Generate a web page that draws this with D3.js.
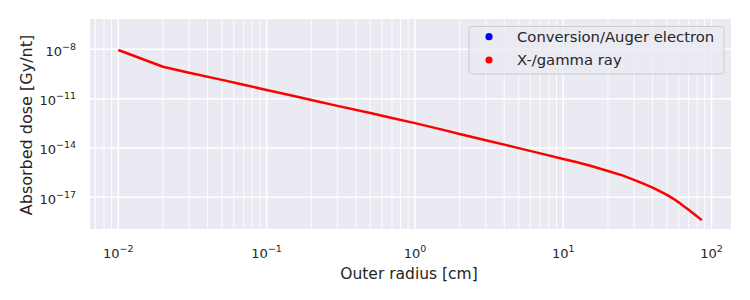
<!DOCTYPE html>
<html>
<head>
<meta charset="utf-8">
<script src="https://cdn.jsdelivr.net/npm/d3@7"></script>
<style>
  html, body { margin: 0; padding: 0; background: #fff; }
  svg { display: block; }
  text { font-family: "DejaVu Sans", sans-serif; fill: #262626; }
</style>
</head>
<body>
<svg id="chart" width="750" height="300"></svg>
<script>
// ---- data ----
const seriesNames = ["Conversion/Auger electron", "X-/gamma ray"];
const seriesColors = ["#0000ff", "#ff0000"];
// Outer radius [cm]
const radius = [0.01, 0.02, 0.03, 0.05, 0.07, 0.1, 0.15, 0.2, 0.3, 0.5, 0.7, 1, 1.5, 2, 3, 5, 7, 10, 12, 15, 20, 25, 30, 35, 40, 45, 50, 55, 60, 65, 70, 75, 80, 86];
// X-/gamma ray absorbed dose [Gy/nt]
const gammaDose = [9.12e-9, 8.71e-10, 3.80e-10, 1.38e-10, 6.92e-11, 3.39e-11, 1.48e-11, 8.32e-12, 3.63e-12, 1.32e-12, 6.61e-13, 3.24e-13, 1.35e-13, 7.08e-14, 2.95e-14, 9.77e-15, 4.68e-15, 2.14e-15, 1.43e-15, 8.51e-16, 3.98e-16, 2.14e-16, 1.15e-16, 6.46e-17, 3.89e-17, 2.29e-17, 1.41e-17, 8.32e-18, 4.90e-18, 2.88e-18, 1.74e-18, 1.07e-18, 6.76e-19, 4.07e-19];
// Conversion/Auger electron dose: no points visible in the reference
const electronDose = [];
const xTickExps = [-2, -1, 0, 1, 2];
const yTickExps = [-8, -11, -14, -17];
const xLabel = "Outer radius [cm]";
const yLabel = "Absorbed dose [Gy/nt]";

// ---- layout ----
const L = 90, R = 731, T = 19, B = 229;
const svg = d3.select("#chart");

const x = d3.scaleLog().domain([Math.pow(10, -2.191), Math.pow(10, 2.131)]).range([L, R]);
const y = d3.scaleLog().domain([Math.pow(10, -18.93), Math.pow(10, -6.156)]).range([B, T]);

svg.append("rect").attr("x", L).attr("y", T).attr("width", R - L).attr("height", B - T).attr("fill", "#EAEAF2");

const [x0, x1] = x.domain();
const minorX = [];
for (let e = -3; e <= 2; e++) for (let m = 2; m <= 9; m++) {
  const v = m * Math.pow(10, e);
  if (v >= x0 && v <= x1) minorX.push(v);
}
const grid = svg.append("g");
grid.selectAll(".mx").data(minorX).join("line")
  .attr("x1", d => x(d)).attr("x2", d => x(d)).attr("y1", T).attr("y2", B)
  .attr("stroke", "#fff").attr("stroke-width", 0.9);
grid.selectAll(".Mx").data(xTickExps).join("line")
  .attr("x1", d => x(Math.pow(10, d))).attr("x2", d => x(Math.pow(10, d))).attr("y1", T).attr("y2", B)
  .attr("stroke", "#fff").attr("stroke-width", 1.5);
grid.selectAll(".My").data(yTickExps).join("line")
  .attr("y1", d => y(Math.pow(10, d))).attr("y2", d => y(Math.pow(10, d))).attr("x1", L).attr("x2", R)
  .attr("stroke", "#fff").attr("stroke-width", 1.5);

// tick labels
function powLabel(sel, e) {
  sel.append("tspan").text("10");
  sel.append("tspan").attr("dy", -6).attr("font-size", 9.5).text(e < 0 ? "\u2212" + (-e) : String(e));
}
svg.append("g").selectAll("text").data(xTickExps).join("text")
  .attr("x", d => x(Math.pow(10, d))).attr("y", 258)
  .attr("text-anchor", "middle").attr("font-size", 13)
  .each(function(d){ powLabel(d3.select(this), d); });
svg.append("g").selectAll("text").data(yTickExps).join("text")
  .attr("x", 76).attr("y", d => y(Math.pow(10, d)) + 6.5)
  .attr("text-anchor", "end").attr("font-size", 13)
  .each(function(d){ powLabel(d3.select(this), d); });

// axis labels
svg.append("text").attr("x", 409).attr("y", 279).attr("text-anchor", "middle")
  .attr("font-size", 15.5).text(xLabel);
svg.append("text").attr("transform", `translate(32,${(T + B) / 2 + 1}) rotate(-90)`)
  .attr("text-anchor", "middle").attr("font-size", 16).text(yLabel);

// series
const line = d3.line().x(d => x(d[0])).y(d => y(d[1]));
const gammaPts = radius.map((r, i) => [r, gammaDose[i]]);
const elecPts = electronDose.map((v, i) => [radius[i], v]);
svg.append("path").datum(elecPts).attr("d", line).attr("fill", "none")
  .attr("stroke", seriesColors[0]).attr("stroke-width", 2.5);
svg.append("path").datum(gammaPts).attr("d", line).attr("fill", "none")
  .attr("stroke", seriesColors[1]).attr("stroke-width", 2.5).attr("stroke-linejoin", "round");

// legend
const lg = svg.append("g");
lg.append("rect").attr("x", 469).attr("y", 26.5).attr("width", 255).attr("height", 47.5)
  .attr("rx", 3).attr("fill", "#EAEAF2").attr("fill-opacity", 0.8).attr("stroke", "#cccccc").attr("stroke-width", 1);
seriesNames.forEach((n, i) => {
  const cy = 36.7 + i * 23.3;
  lg.append("circle").attr("cx", 489).attr("cy", cy).attr("r", 3.6).attr("fill", seriesColors[i]);
  lg.append("text").attr("x", 517).attr("y", cy + 5.3).attr("font-size", 14.8).text(n);
});
</script>
</body>
</html>
